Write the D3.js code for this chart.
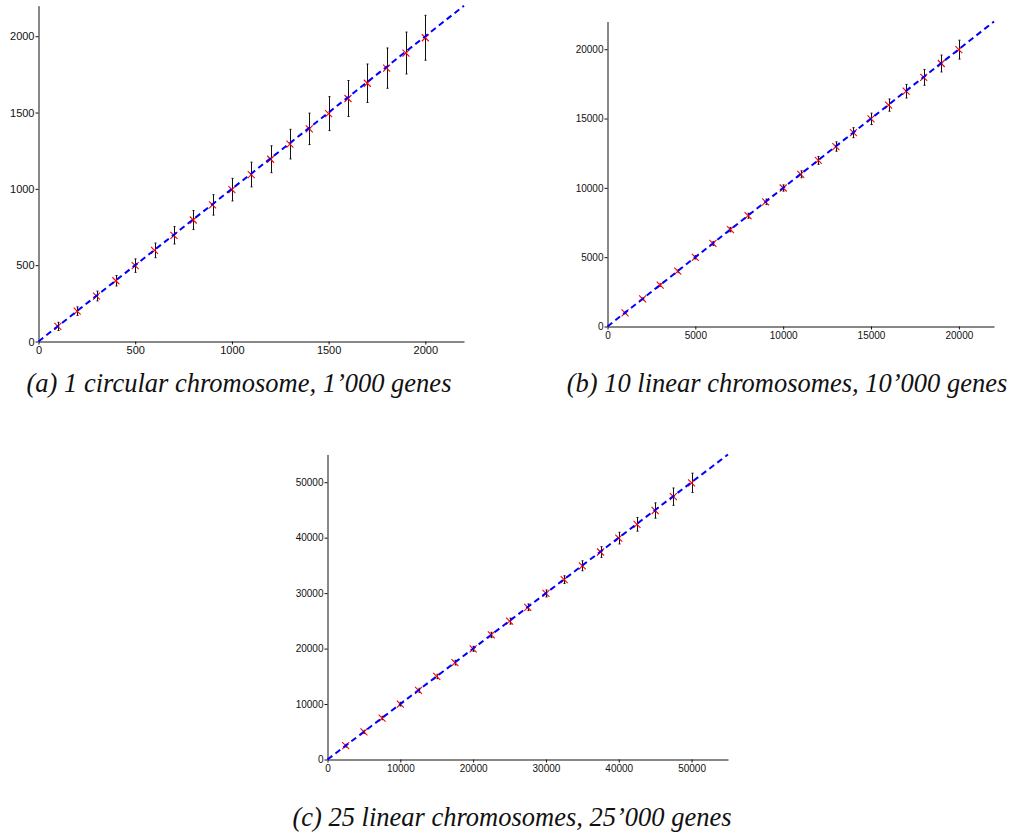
<!DOCTYPE html>
<html><head><meta charset="utf-8">
<script src="https://cdn.jsdelivr.net/npm/d3@7"></script>
<style>body{margin:0;background:#fff;} svg{display:block;}</style>
</head><body>
<svg id="c" width="1014" height="836"></svg>
<script>
// ---- data ----
const xA = [100,200,300,400,500,600,700,800,900,1000,1100,1200,1300,1400,1500,1600,1700,1800,1900,2000];
const yA = [99,199,298,398,497,597,696,796,895,995,1094,1194,1293,1393,1493,1592,1692,1791,1890,1990];
const eA = [27,28,32,34,44,48,57,62,67,74,81,88,97,103,111,118,126,132,137,147];
const ticksA = [0,500,1000,1500,2000];

const xB = [1000,2000,3000,4000,5000,6000,7000,8000,9000,10000,11000,12000,13000,14000,15000,16000,17000,18000,19000,20000];
const yB = [990,1990,2990,3990,4990,5990,6990,7990,8990,9990,10980,11980,12980,13980,14980,15970,16970,17970,18970,19970];
const eB = [60,75,90,105,120,140,160,180,200,225,250,285,340,360,410,440,490,570,610,680];
const ticksB = [0,5000,10000,15000,20000];

const xC = [2500,5000,7500,10000,12500,15000,17500,20000,22500,25000,27500,30000,32500,35000,37500,40000,42500,45000,47500,50000];
const yC = [2490,4990,7480,9980,12480,14970,17470,19960,22460,24950,27450,29940,32440,34930,37420,39920,42410,44900,47400,49890];
const eC = [250,270,300,330,360,390,420,450,480,540,600,630,690,900,960,1050,1230,1380,1560,1740];
const ticksC = [0,10000,20000,30000,40000,50000];

const captions = ["(a) 1 circular chromosome, 1’000 genes",
                  "(b) 10 linear chromosomes, 10’000 genes",
                  "(c) 25 linear chromosomes, 25’000 genes"];
const maxA = 2200, maxB = 22000, maxC = 55000;

// ---- drawing ----
const svg = d3.select("#c");

function panel(cfg){
  const {xs, ys, es, ticks, max, left, bottom, w, h, fs, caption, cx, cy} = cfg;
  const x = d3.scaleLinear().domain([0,max]).range([left, left+w]);
  const y = d3.scaleLinear().domain([0,max]).range([bottom, bottom-h]);
  const g = svg.append("g");

  const xa = g.append("g").attr("transform",`translate(0,${bottom})`)
    .call(d3.axisBottom(x).tickValues(ticks).tickFormat(d3.format("d")).tickSizeInner(3).tickSizeOuter(0).tickPadding(2));
  const ya = g.append("g").attr("transform",`translate(${left},0)`)
    .call(d3.axisLeft(y).tickValues(ticks).tickFormat(d3.format("d")).tickSizeInner(3).tickSizeOuter(0).tickPadding(1));
  [xa,ya].forEach(a=>{
    a.selectAll("text").attr("font-family","'Liberation Sans', Arial, sans-serif").attr("font-size",fs).attr("fill","#111");
    a.selectAll("line").attr("stroke","#111");
    a.select(".domain").attr("stroke","#111");
  });

  const pts = xs.map((v,i)=>({x:v,y:ys[i],e:es[i]}));
  // error bars
  const eb = g.append("g").attr("stroke","#111").attr("stroke-width",1);
  eb.selectAll("line.v").data(pts).join("line").attr("class","v")
    .attr("x1",d=>Math.round(x(d.x))+0.5).attr("x2",d=>Math.round(x(d.x))+0.5)
    .attr("y1",d=>y(d.y-d.e)).attr("y2",d=>y(d.y+d.e));
  eb.selectAll("line.t").data(pts).join("line").attr("class","t")
    .attr("x1",d=>Math.round(x(d.x))-0.5).attr("x2",d=>Math.round(x(d.x))+1.5)
    .attr("y1",d=>y(d.y+d.e)).attr("y2",d=>y(d.y+d.e));
  eb.selectAll("line.b").data(pts).join("line").attr("class","b")
    .attr("x1",d=>Math.round(x(d.x))-0.5).attr("x2",d=>Math.round(x(d.x))+1.5)
    .attr("y1",d=>y(d.y-d.e)).attr("y2",d=>y(d.y-d.e));

  // red x markers
  const s = 3.5;
  const mk = g.append("g").attr("stroke","#ff0000").attr("stroke-width",1.1);
  mk.selectAll("path").data(pts).join("path")
    .attr("d",d=>{const px=x(d.x), py=y(d.y);
      return `M${px-s},${py-s}L${px+s},${py+s}M${px-s},${py+s}L${px+s},${py-s}`;});

  // y = x dashed line
  g.append("path").datum([0,max])
    .attr("d", d3.line().x(d=>x(d)).y(d=>y(d)))
    .attr("stroke","#0000ff").attr("stroke-width",2).attr("stroke-dasharray","6,4").attr("fill","none");

  svg.append("text").attr("x",cx).attr("y",cy).attr("text-anchor","middle")
    .attr("font-family","'Liberation Serif', 'Times New Roman', serif").attr("font-style","italic")
    .attr("font-size",26.5).attr("fill","#111").text(caption);
}

panel({xs:xA, ys:yA, es:eA, ticks:ticksA, max:maxA, left:38.5, bottom:341.5, w:425.5, h:335.8, fs:11,
       caption:captions[0], cx:239, cy:392});
panel({xs:xB, ys:yB, es:eB, ticks:ticksB, max:maxB, left:607.5, bottom:326.5, w:386.5, h:305, fs:10,
       caption:captions[1], cx:787, cy:392});
panel({xs:xC, ys:yC, es:eC, ticks:ticksC, max:maxC, left:327.5, bottom:759.5, w:400.5, h:305, fs:10,
       caption:captions[2], cx:512, cy:826});
</script>
</body></html>
